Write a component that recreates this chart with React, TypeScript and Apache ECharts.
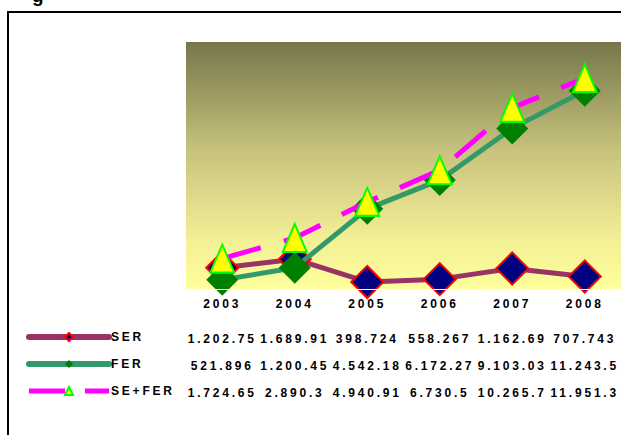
import React, { useEffect, useRef } from "react";
import * as echarts from "echarts";

const YEARS = ["2003", "2004", "2005", "2006", "2007", "2008"];
const SER = [1202.75, 1689.91, 398.724, 558.267, 1162.69, 707.743];
const FER = [521.896, 1200.45, 4542.18, 6172.27, 9103.03, 11243.5];
const SEFER = [1724.65, 2890.3, 4940.91, 6730.5, 10265.7, 11951.3];
const SERIES_NAMES = ["SER", "FER", "SE+FER"];
const Y_MAX = 14000;

const FONT = "'Liberation Sans', Arial, sans-serif";

function fmt(v: number): string {
  const parts = String(v).split(".");
  const g = parts[0].replace(/\B(?=(\d{3})+(?!\d))/g, ".");
  return parts[1] ? g + "." + parts[1] : g;
}

const labelStyle = {
  color: "#000",
  fontFamily: FONT,
  fontWeight: "bold" as const,
  fontSize: 12,
};

function tableAxis(values: number[], offset: number) {
  return {
    type: "category",
    gridIndex: 0,
    position: "bottom",
    offset,
    data: YEARS,
    axisLine: { show: false },
    axisTick: { show: false },
    splitLine: { show: false },
    axisLabel: {
      ...labelStyle,
      interval: 0,
      margin: 0,
      formatter: (_v: string, i: number) => fmt(values[i]),
    },
  };
}

export default function App() {
  const ref = useRef<HTMLDivElement>(null);
  useEffect(() => {
    if (!ref.current) return;
    const chart = echarts.init(ref.current, null, { renderer: "svg" });
    chart.setOption({
      animation: false,
      backgroundColor: "#fff",
      grid: {
        left: 186,
        top: 42,
        width: 436,
        height: 247,
        show: true,
        borderWidth: 0,
        backgroundColor: new echarts.graphic.LinearGradient(0, 0, 0, 1, [
          { offset: 0, color: "#76764A" },
          { offset: 0.45, color: "#C9C47E" },
          { offset: 0.8, color: "#F2EF95" },
          { offset: 1, color: "#FFFF9C" },
        ]),
      },
      legend: {
        orient: "vertical",
        left: 26,
        top: 331,
        padding: 0,
        itemWidth: 80,
        itemHeight: 10,
        itemGap: 15,
        data: [
          { name: SERIES_NAMES[0], lineStyle: { width: 6, cap: "round" } },
          { name: SERIES_NAMES[1], lineStyle: { width: 6, cap: "round" } },
          { name: SERIES_NAMES[2], lineStyle: { width: 5, type: [36, 20], cap: "butt" } },
        ],
        textStyle: { ...labelStyle, padding: [6, 0, 0, -3] },
      },
      graphic: [
        {
          type: "rect",
          z: -10,
          shape: { x: 8, y: 12, width: 700, height: 500 },
          style: { fill: "none", stroke: "#000", lineWidth: 2 },
          silent: true,
        },
        {
          type: "text",
          left: 32,
          top: -14,
          style: {
            text: "g",
            fill: "#000",
            font: "bold 19px " + FONT,
          },
        },
      ],
      xAxis: [
        {
          type: "category",
          data: YEARS,
          gridIndex: 0,
          position: "bottom",
          z: 5,
          axisLine: { show: true, lineStyle: { color: "#fff", width: 1 } },
          axisTick: { show: false },
          splitLine: { show: false },
          axisLabel: { ...labelStyle, interval: 0, margin: 9 },
        },
        tableAxis(SER, 44),
        tableAxis(FER, 71),
        tableAxis(SEFER, 98),
      ],
      yAxis: {
        type: "value",
        min: 0,
        max: Y_MAX,
        show: false,
        splitLine: { show: false },
      },
      series: [
        {
          name: "SER",
          type: "line",
          data: SER,
          symbol: "diamond",
          symbolSize: [32, 32],
          lineStyle: { color: "#993366", width: 5 },
          itemStyle: { color: "#000080", borderColor: "#FF0000", borderWidth: 2 },
          z: 2,
        },
        {
          name: "FER",
          type: "line",
          data: FER,
          symbol: "diamond",
          symbolSize: [32, 32],
          lineStyle: { color: "#339966", width: 5 },
          itemStyle: { color: "#008000", borderWidth: 0 },
          z: 3,
        },
        {
          name: "SE+FER",
          type: "line",
          data: SEFER,
          symbol: "triangle",
          symbolSize: [24, 28],
          lineStyle: { color: "#FF00FF", width: 5, type: [40, 24], cap: "butt" },
          itemStyle: { color: "#FFFF00", borderColor: "#00FF00", borderWidth: 2 },
          z: 4,
        },
      ],
    });
    return () => chart.dispose();
  }, []);
  return (
    <div
      ref={ref}
      style={{
        position: "fixed",
        left: 0,
        top: 0,
        width: 621,
        height: 435,
        letterSpacing: "2.8px",
      }}
    />
  );
}
